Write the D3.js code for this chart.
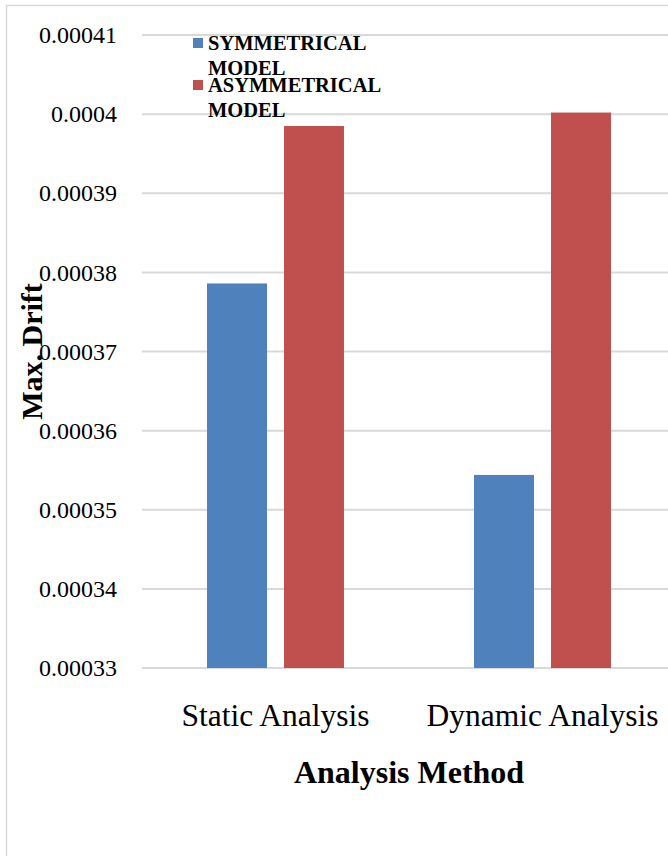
<!DOCTYPE html>
<html>
<head>
<meta charset="utf-8">
<script src="https://cdn.jsdelivr.net/npm/d3@7"></script>
<style>
  html, body { margin: 0; padding: 0; background: #fff; }
  svg { display: block; }
  text { font-family: "Liberation Serif", "Times New Roman", serif; fill: #000; }
</style>
</head>
<body>
<svg id="chart" width="668" height="856"></svg>
<script>
const categories = ["Static Analysis", "Dynamic Analysis"];
const seriesNames = ["SYMMETRICAL MODEL", "ASYMMETRICAL MODEL"];
const seriesLegendLines = [["SYMMETRICAL", "MODEL"], ["ASYMMETRICAL", "MODEL"]];
const symmetricalValues = [0.0003786, 0.0003544];
const asymmetricalValues = [0.0003985, 0.0004002];
const yTicks = [0.00033, 0.00034, 0.00035, 0.00036, 0.00037, 0.00038, 0.00039, 0.0004, 0.00041];
const yTickLabels = ["0.00033", "0.00034", "0.00035", "0.00036", "0.00037", "0.00038", "0.00039", "0.0004", "0.00041"];
const colors = ["#4f81bd", "#c0504d"];
const yTitle = "Max. Drift";
const xTitle = "Analysis Method";

const seriesValues = [symmetricalValues, asymmetricalValues];

const svg = d3.select("#chart");

// chart frame
svg.append("rect")
  .attr("x", 6.5).attr("y", 5.5)
  .attr("width", 700).attr("height", 900)
  .attr("fill", "none").attr("stroke", "#d9d9d9").attr("stroke-width", 1.5);

const plotLeft = 142, plotRight = 676, plotTop = 35, plotBottom = 668;

const y = d3.scaleLinear().domain([0.00033, 0.00041]).range([plotBottom, plotTop]);
const x0 = d3.scaleBand().domain(categories).range([plotLeft, plotRight])
  .paddingInner(0.487).paddingOuter(0.2435);
const x1 = d3.scaleBand().domain(seriesNames).range([0, x0.bandwidth()])
  .paddingInner(0.221).paddingOuter(0);

// gridlines
svg.append("g").selectAll("line").data(yTicks).join("line")
  .attr("x1", plotLeft).attr("x2", plotRight)
  .attr("y1", d => y(d)).attr("y2", d => y(d))
  .attr("stroke", "#d9d9d9").attr("stroke-width", 2);

// y tick labels
svg.append("g").selectAll("text").data(yTicks).join("text")
  .attr("x", 117).attr("y", d => y(d)).attr("dy", "0.34em")
  .attr("text-anchor", "end")
  .style("font-size", "24px")
  .text((d, i) => yTickLabels[i]);

// bars
const groups = svg.append("g").selectAll("g").data(categories).join("g")
  .attr("transform", d => `translate(${x0(d)},0)`);
groups.selectAll("rect")
  .data((c, ci) => seriesNames.map((s, si) => ({ s, si, v: seriesValues[si][ci] })))
  .join("rect")
  .attr("x", d => x1(d.s))
  .attr("width", x1.bandwidth())
  .attr("y", d => y(d.v))
  .attr("height", d => y(0.00033) - y(d.v))
  .attr("fill", d => colors[d.si]);

// x category labels
svg.append("g").selectAll("text").data(categories).join("text")
  .attr("x", d => x0(d) + x0.bandwidth() / 2)
  .attr("y", 726)
  .attr("text-anchor", "middle")
  .style("font-size", "31.5px")
  .text(d => d);

// x title
svg.append("text")
  .attr("x", (plotLeft + plotRight) / 2).attr("y", 783)
  .attr("text-anchor", "middle")
  .style("font-size", "32px").style("font-weight", "bold")
  .text(xTitle);

// y title
svg.append("text")
  .attr("transform", `translate(42,${(plotTop + plotBottom) / 2}) rotate(-90)`)
  .attr("text-anchor", "middle")
  .style("font-size", "30px").style("font-weight", "bold")
  .text(yTitle);

// legend
const legend = svg.append("g");
seriesNames.forEach((s, i) => {
  const baseY = 50 + i * 42;
  legend.append("rect")
    .attr("x", 193).attr("y", baseY - 12)
    .attr("width", 10).attr("height", 10)
    .attr("fill", colors[i]);
  seriesLegendLines[i].forEach((line, li) => {
    legend.append("text")
      .attr("x", 208).attr("y", baseY + li * 25)
      .style("font-size", "20.5px").style("font-weight", "bold")
      .text(line);
  });
});
</script>
</body>
</html>
